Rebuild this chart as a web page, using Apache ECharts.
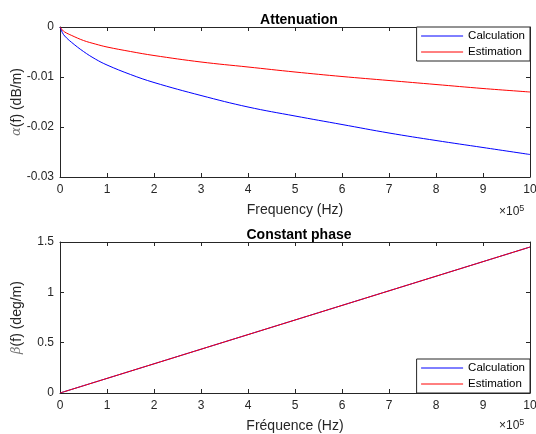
<!DOCTYPE html>
<html>
<head>
<meta charset="utf-8">
<script src="https://cdn.jsdelivr.net/npm/echarts@6/dist/echarts.min.js"></script>
<style>
 html, body { margin: 0; padding: 0; background: #fff; }
 #chart { width: 536px; height: 434px; }
</style>
</head>
<body>
<div id="chart"></div>
<script>
 // frequency in Hz
 var freq = [0, 5000, 10000, 25000, 50000, 75000, 100000, 150000, 200000, 300000, 400000, 500000, 600000, 700000, 800000, 900000, 1000000];

 // attenuation (dB/m)
 var attCalc = [0, -0.0011, -0.0018, -0.0031, -0.0049, -0.0064, -0.0076, -0.0095, -0.0111, -0.0137, -0.016, -0.0178, -0.0195, -0.0212, -0.0227, -0.0241, -0.0255];
 var attEst = [0, -0.0006, -0.001, -0.0017, -0.0027, -0.0034, -0.004, -0.0049, -0.0057, -0.007, -0.008, -0.009, -0.0099, -0.0107, -0.0115, -0.0123, -0.013];

 // phase (deg/m)
 var phCalc = [0, 0.0073, 0.0145, 0.0363, 0.0725, 0.1088, 0.145, 0.2175, 0.29, 0.435, 0.58, 0.725, 0.87, 1.015, 1.16, 1.305, 1.45];
 var phEst = [0, 0.0072, 0.0144, 0.0362, 0.0724, 0.1087, 0.1449, 0.2174, 0.2899, 0.4349, 0.5799, 0.7249, 0.8699, 1.0149, 1.1599, 1.3049, 1.4499];

 var xTicks = ['0', '1', '2', '3', '4', '5', '6', '7', '8', '9', '10'];

 function pairs(xs, ys) {
  var out = [];
  for (var i = 0; i < xs.length; i++) out.push([xs[i], ys[i]]);
  return out;
 }

 var font = 'Liberation Sans, Arial, sans-serif';
 var axisCol = '#262626';

 function xAx(gi, name, main) {
  return {
   type: 'value', gridIndex: gi, min: 0, max: 1000000, interval: 100000,
   position: main ? 'bottom' : 'top',
   name: main ? name : '', nameLocation: 'middle', nameGap: 26, nameMoveOverlap: false,
   nameTextStyle: { fontFamily: font, fontSize: 14, color: axisCol },
   axisLine: { show: true, onZero: false, lineStyle: { color: axisCol, width: 1 } },
   axisTick: { show: true, inside: true, length: 4, lineStyle: { color: axisCol } },
   axisLabel: {
    show: main, fontFamily: font, fontSize: 12, color: axisCol, margin: 7,
    formatter: function(v) { return xTicks[Math.round(v / 100000)]; }
   },
   splitLine: { show: false }
  };
 }

 function yAx(gi, min, max, step, nm, main, fmt) {
  return {
   type: 'value', gridIndex: gi, min: min, max: max, interval: step,
   position: main ? 'left' : 'right',
   name: main ? nm : '', nameLocation: 'middle', nameGap: main ? 36 : 0, nameRotate: 90, nameMoveOverlap: false,
   nameTextStyle: {
    fontFamily: font, fontSize: 14, color: axisCol,
    rich: { g: { fontFamily: 'DejaVu Serif, serif', fontStyle: 'italic', fontSize: 13, color: '#777' } }
   },
   axisLine: { show: true, onZero: false, lineStyle: { color: axisCol, width: 1 } },
   axisTick: { show: true, inside: true, length: 4, lineStyle: { color: axisCol } },
   axisLabel: { show: main, fontFamily: font, fontSize: 12, color: axisCol, margin: 6, formatter: fmt },
   splitLine: { show: false }
  };
 }

 function line(name, color, xi, yi, data) {
  return {
   name: name, type: 'line', xAxisIndex: xi, yAxisIndex: yi, data: data,
   smooth: 0.4, symbol: 'none', lineStyle: { color: color, width: 1 }, itemStyle: { color: color },
   animation: false
  };
 }

 function legendBox(names, top) {
  return {
   data: names, orient: 'vertical', right: 6, top: top,
   backgroundColor: '#fff', borderColor: '#262626', borderWidth: 1, borderRadius: 0, padding: [3, 5, 3, 4],
   itemWidth: 42, itemHeight: 12, itemGap: 4,
   itemStyle: { opacity: 0 },
   lineStyle: { width: 1 },
   textStyle: { fontFamily: font, fontSize: 11.5, color: '#000' },
   formatter: function(n) { return n.trim(); }
  };
 }

 var xLabelStyle = { text: '×10{s|5}', rich: { s: { fontFamily: font, fontSize: 9, verticalAlign: 'top', padding: [0, 0, 7, 0] } }, fontFamily: font, fontSize: 12, fill: axisCol };

 var chart = echarts.init(document.getElementById('chart'));
 var option = {
  backgroundColor: '#fff',
  animation: false,
  title: [
   { text: 'Attenuation', left: 294, top: 8, textAlign: 'center', textStyle: { fontFamily: font, fontSize: 14, fontWeight: 'bold', color: '#000' } },
   { text: 'Constant phase', left: 294, top: 223, textAlign: 'center', textStyle: { fontFamily: font, fontSize: 14, fontWeight: 'bold', color: '#000' } }
  ],
  grid: [
   { left: 60, right: 6, top: 27, height: 150, outerBoundsMode: 'none', containLabel: false },
   { left: 60, right: 6, top: 242, height: 151, outerBoundsMode: 'none', containLabel: false }
  ],
  xAxis: [
   xAx(0, 'Frequency (Hz)', true), xAx(0, '', false),
   xAx(1, 'Fréquence (Hz)', true), xAx(1, '', false)
  ],
  yAxis: [
   yAx(0, -0.03, 0, 0.01, '{g|α}(f) (dB/m)', true, function(v) { return v === 0 ? '0' : String(+v.toFixed(2)); }),
   yAx(0, -0.03, 0, 0.01, '', false),
   yAx(1, 0, 1.5, 0.5, '{g|β}(f) (deg/m)', true, function(v) { return String(v); }),
   yAx(1, 0, 1.5, 0.5, '', false)
  ],
  legend: [
   legendBox(['Calculation', 'Estimation'], 27),
   legendBox(['Calculation ', 'Estimation '], 359)
  ],
  graphic: [
   { type: 'text', left: 499, top: 204, style: xLabelStyle },
   { type: 'text', left: 499, top: 418, style: xLabelStyle }
  ],
  series: [
   line('Calculation', '#0000ff', 0, 0, pairs(freq, attCalc)),
   line('Estimation', '#ff0000', 0, 0, pairs(freq, attEst)),
   line('Calculation ', '#0000ff', 2, 2, pairs(freq, phCalc)),
   line('Estimation ', '#ff0000', 2, 2, pairs(freq, phEst))
  ]
 };
 chart.setOption(option);
</script>
</body>
</html>
